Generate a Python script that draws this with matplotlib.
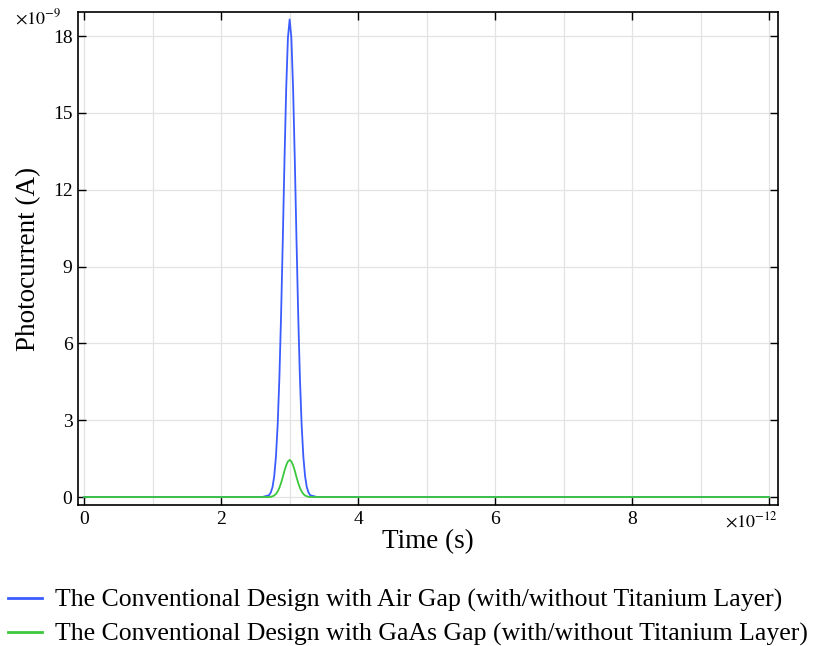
import matplotlib
matplotlib.use('Agg')
import matplotlib.pyplot as plt
from matplotlib.ticker import MultipleLocator

# 数据（从图上读取，时间单位 1e-12 s，电流单位 1e-9 A）
time_ps = [0.0, 2.6, 2.7, 2.725, 2.75, 2.775, 2.8, 2.825, 2.85, 2.875, 2.9, 2.925, 2.95, 2.975,
           3.0, 3.025, 3.05, 3.075, 3.1, 3.125, 3.15, 3.175, 3.2, 3.225, 3.25, 3.275, 3.3, 3.4, 10.0]
air_gap_nA = [0.0, 0.0, 0.07, 0.18, 0.39, 0.82, 1.58, 2.82, 4.64, 7.11, 10.05, 13.19, 15.98, 17.94,
              18.65, 17.94, 15.98, 13.19, 10.05, 7.11, 4.64, 2.82, 1.58, 0.82, 0.39, 0.18, 0.07, 0.0, 0.0]
gaas_gap_nA = [0.0, 0.0, 0.0, 0.01, 0.03, 0.06, 0.12, 0.22, 0.36, 0.55, 0.78, 1.03, 1.24, 1.39,
               1.45, 1.39, 1.24, 1.03, 0.78, 0.55, 0.36, 0.22, 0.12, 0.06, 0.03, 0.01, 0.0, 0.0, 0.0]

labels = ['The Conventional Design with Air Gap (with/without Titanium Layer)',
          'The Conventional Design with GaAs Gap (with/without Titanium Layer)']
y_ticks = [0, 3, 6, 9, 12, 15, 18]
x_ticks = [0, 2, 4, 6, 8, 10]
x_tick_labels = ['0', '2', '4', '6', '8', '']

plt.rcParams['font.family'] = ['Liberation Serif', 'DejaVu Serif']
plt.rcParams['mathtext.fontset'] = 'stix'

fig = plt.figure(figsize=(8.18, 6.46), dpi=100)
ax = fig.add_axes([0.0954, 0.2183, 0.8556, 0.7631])

l1, = ax.plot(time_ps, air_gap_nA, color='#3a5cff', linewidth=1.3)
l2, = ax.plot(time_ps, gaas_gap_nA, color='#3cc83c', linewidth=1.3)

ax.set_xlim(-0.09, 10.13)
ax.set_ylim(-0.31, 18.94)
ax.set_xticks(x_ticks)
ax.set_xticklabels(x_tick_labels)
ax.set_yticks(y_ticks)
ax.xaxis.set_minor_locator(MultipleLocator(1))
ax.grid(True, which='both', color='#e3e3e3', linewidth=0.9)
ax.set_axisbelow(True)
ax.tick_params(which='major', direction='in', length=6, width=1, top=True, right=True,
               labelsize=14, pad=4)
ax.tick_params(which='minor', length=0)
for s in ax.spines.values():
    s.set_linewidth(1.2)

ax.set_xlabel('Time (s)', fontsize=19.5, labelpad=1)
ax.set_ylabel('Photocurrent (A)', fontsize=19.5, labelpad=8)

# 坐标倍数标注
ax.text(-0.09, 0.988, r'$\times 10^{-9}$', transform=ax.transAxes, fontsize=13, ha='left', va='center')
ax.text(1.0, -0.032, r'$\times 10^{-12}$', transform=ax.transAxes, fontsize=13, ha='right', va='center')

leg = fig.legend([l1, l2], labels, loc='lower left', bbox_to_anchor=(-0.018, -0.036), frameon=False,
                 fontsize=18.5, handlelength=1.3, handletextpad=0.5, labelspacing=0.42)
for h in leg.legend_handles:
    h.set_linewidth(2)

fig.savefig('out.png', dpi=100)
